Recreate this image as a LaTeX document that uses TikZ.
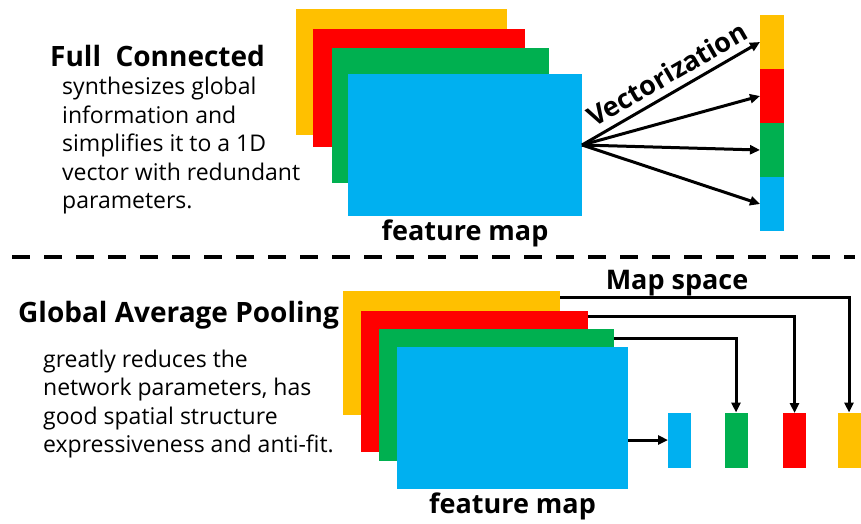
\documentclass[tikz,border=0pt]{standalone}
\usepackage{fontspec}
\setmainfont{Open Sans}
\usetikzlibrary{arrows.meta,positioning}
\definecolor{cyel}{HTML}{FFC000}
\definecolor{cred}{HTML}{FF0000}
\definecolor{cgrn}{HTML}{00B050}
\definecolor{cblu}{HTML}{00B0F0}
\tikzset{
  fmap/.style={inner sep=0pt, outer sep=0pt},
  arr/.style={-{Triangle[length=10pt,width=9pt]}, line width=3pt},
  hd/.style={font=\fontsize{28}{32}\selectfont\bfseries, inner sep=0pt},
  lbl/.style={font=\fontsize{27}{30}\selectfont\bfseries, inner sep=0pt},
  txt/.style={font=\fontsize{23}{28.5}\selectfont, align=left, inner sep=0pt}
}

\begin{document}
\begin{tikzpicture}[x=1pt,y=-1pt]
\useasboundingbox (0,0) rectangle (861,523);

\node[hd, anchor=west] (fch) at (50,56) {Full~ Connected};
\node[txt, anchor=west] (fct) at (62,146) {synthesizes global\\information and\\simplifies it to a 1D\\vector with redundant\\parameters.};

\node[fmap, fill=cyel, minimum width=211pt, minimum height=126pt] (ty) at (401.5,72) {};
\node[fmap, fill=cred, minimum width=212pt, minimum height=118pt] (tr) at (419,88) {};
\node[fmap, fill=cgrn, minimum width=217pt, minimum height=135pt] (tg) at (440.5,115.5) {};
\node[fmap, fill=cblu, minimum width=234pt, minimum height=142pt] (tb) at (465,145) {};
\node[lbl, below=4pt of tb] (tfm) {feature map};

\node[fmap, fill=cyel, minimum width=24pt, minimum height=54pt] (vy) at (772,42) {};
\node[fmap, fill=cred, minimum width=24pt, minimum height=54pt] (vr) at (772,96) {};
\node[fmap, fill=cgrn, minimum width=24pt, minimum height=54pt] (vg) at (772,150) {};
\node[fmap, fill=cblu, minimum width=24pt, minimum height=54pt] (vb) at (772,204) {};

\draw[arr] (tb.east) -- node[lbl, sloped, above=7pt, pos=0.53] {Vectorization} (vy.west);
\draw[arr] (tb.east) -- (vr.west);
\draw[arr] (tb.east) -- (vg.west);
\draw[arr] (tb.east) -- (vb.west);

\coordinate (dl) at (12,257);
\coordinate (dr) at (855,257);
\draw[line width=4pt, dash pattern=on 18pt off 14pt] (dl) -- (dr);

\node[hd, anchor=west] (gph) at (18,315) {Global Average Pooling};
\node[txt, anchor=west] (gpt) at (43,404) {greatly reduces the\\network parameters, has\\good spatial structure\\expressiveness and anti-fit.};

\node[fmap, fill=cyel, minimum width=217pt, minimum height=124pt] (by) at (451.5,353) {};
\node[fmap, fill=cred, minimum width=227pt, minimum height=141pt] (br) at (474.5,381.5) {};
\node[fmap, fill=cgrn, minimum width=235pt, minimum height=132pt] (bg) at (496.5,395) {};
\node[fmap, fill=cblu, minimum width=231pt, minimum height=142pt] (bb) at (512.5,418) {};
\node[lbl, below=4pt of bb] (bfm) {feature map};

\node[fmap, fill=cblu, minimum width=23pt, minimum height=55pt] (cb) at (679.5,440) {};
\node[fmap, fill=cgrn, minimum width=23pt, minimum height=55pt] (cg) at (736,440) {};
\node[fmap, fill=cred, minimum width=23pt, minimum height=55pt] (cr) at (794.5,440.5) {};
\node[fmap, fill=cyel, minimum width=23pt, minimum height=55pt] (cy) at (849,440) {};

\node[lbl] (msp) at (677,283) {Map space};

\draw[arr] (bb.east |- cb.west) -- (cb.west);
\draw[arr] ([yshift=-9pt]bg.north east) -| (cg.north);
\draw[arr] ([yshift=-5pt]br.north east) -| (cr.north);
\draw[arr] ([yshift=-6pt]by.north east) -| (cy.north);
\end{tikzpicture}
\end{document}
